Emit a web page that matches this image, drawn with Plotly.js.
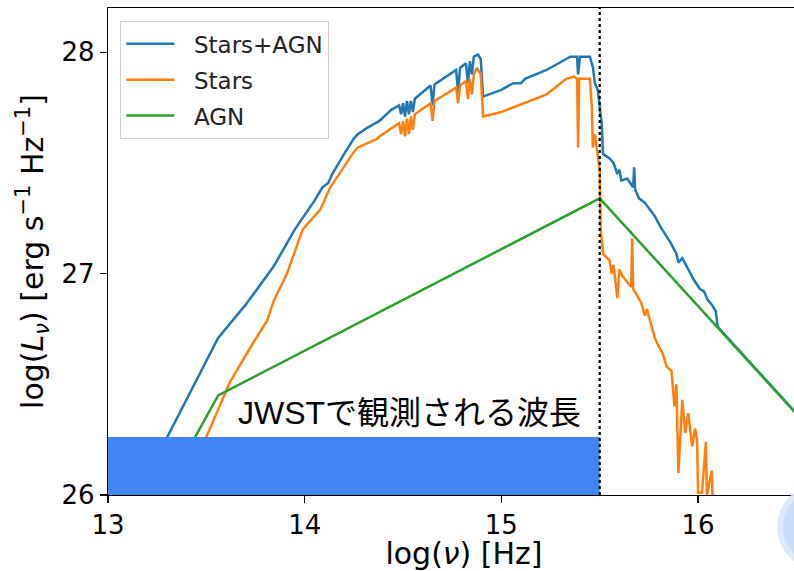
<!DOCTYPE html>
<html>
<head>
<meta charset="utf-8">
<script src="https://cdn.plot.ly/plotly-3.0.1.min.js"></script>
<style>
  html, body { margin: 0; padding: 0; overflow: hidden; background: #fff; }
  #chart { width: 820px; height: 571px; }
</style>
</head>
<body>
<div id="chart"></div>
<script>
// Spectral energy distribution: log frequency vs log luminosity density
const totalX = [13.15, 13.30, 13.56, 13.70, 13.81, 13.84, 13.86, 13.95, 14.05, 14.09, 14.12, 14.14, 14.20, 14.25, 14.27, 14.32, 14.38,
  14.44, 14.48, 14.49, 14.50, 14.51, 14.52, 14.53, 14.54, 14.55, 14.56, 14.64, 14.65, 14.66, 14.77, 14.78, 14.79, 14.82, 14.83,
  14.84, 14.85, 14.86, 14.88, 14.895, 14.907, 15.00, 15.06, 15.10, 15.12, 15.15, 15.23, 15.30, 15.35, 15.385, 15.39, 15.40, 15.45,
  15.466, 15.475, 15.49, 15.51, 15.517, 15.55, 15.57, 15.59, 15.60, 15.61, 15.64, 15.67, 15.675, 15.68, 15.70, 15.73, 15.755,
  15.78, 15.81, 15.84, 15.86, 15.89, 15.90, 15.92, 15.96, 15.98, 16.01, 16.03, 16.05, 16.07, 16.09, 16.10, 16.62];
const totalY = [26.00, 26.26, 26.71, 26.86, 26.99, 27.03, 27.06, 27.20, 27.33, 27.39, 27.41, 27.45, 27.54, 27.61, 27.63, 27.66, 27.69,
  27.74, 27.76, 27.72, 27.77, 27.71, 27.78, 27.72, 27.78, 27.73, 27.79, 27.85, 27.76, 27.855, 27.92, 27.82, 27.93, 27.95, 27.86,
  27.96, 27.90, 27.98, 27.99, 27.97, 27.80, 27.83, 27.86, 27.86, 27.88, 27.89, 27.92, 27.955, 27.98, 27.98, 27.90, 27.98, 27.98,
  27.93, 27.86, 27.83, 27.68, 27.54, 27.52, 27.50, 27.45, 27.47, 27.42, 27.43, 27.39, 27.48, 27.38, 27.34, 27.32, 27.29,
  27.26, 27.21, 27.17, 27.14, 27.09, 27.05, 27.07, 27.00, 26.97, 26.93, 26.92, 26.88, 26.86, 26.83, 26.76, 26.25];

const starsX = [13.20, 13.50, 13.62, 13.74, 13.81, 13.84, 13.85, 13.91, 13.99, 14.08, 14.11, 14.13, 14.19, 14.25, 14.27, 14.37, 14.38,
  14.45, 14.48, 14.49, 14.50, 14.51, 14.52, 14.53, 14.54, 14.55, 14.56, 14.64, 14.65, 14.66, 14.77, 14.78, 14.79, 14.82, 14.83,
  14.84, 14.85, 14.86, 14.876, 14.895, 14.907, 15.00, 15.06, 15.15, 15.23, 15.33, 15.37, 15.385, 15.39, 15.395, 15.45, 15.46,
  15.465, 15.475, 15.485, 15.50, 15.505, 15.517, 15.55, 15.56, 15.57, 15.59, 15.60, 15.615, 15.66, 15.665, 15.67, 15.685, 15.71,
  15.73, 15.74, 15.76, 15.78, 15.80, 15.82, 15.84, 15.865, 15.88, 15.89, 15.90, 15.92, 15.935, 15.95, 15.97, 15.985, 15.995,
  16.00, 16.02, 16.04, 16.045, 16.07, 16.075, 16.15, 16.62];
const starsY = [25.64, 26.26, 26.51, 26.69, 26.79, 26.87, 26.89, 27.00, 27.20, 27.29, 27.35, 27.39, 27.47, 27.55, 27.57, 27.61, 27.62,
  27.66, 27.68, 27.63, 27.69, 27.62, 27.70, 27.63, 27.71, 27.65, 27.72, 27.77, 27.69, 27.78, 27.84, 27.77, 27.85, 27.87, 27.79,
  27.88, 27.81, 27.90, 27.93, 27.90, 27.71, 27.73, 27.75, 27.78, 27.81, 27.88, 27.89, 27.88, 27.57, 27.88, 27.88, 27.75,
  27.57, 27.63, 27.56, 27.47, 27.20, 27.09, 27.06, 27.00, 27.04, 26.89, 27.02, 26.99, 26.94, 27.16, 26.93, 26.91, 26.87,
  26.81, 26.84, 26.78, 26.71, 26.67, 26.64, 26.58, 26.56, 26.40, 26.50, 26.10, 26.43, 26.28, 26.37, 26.22, 26.30, 26.25,
  26.01, 26.01, 26.24, 26.00, 26.11, 25.95, 25.60, 24.60];

const agnX = [13.00, 13.56, 15.50, 16.62];
const agnY = [25.55, 26.45, 27.34, 26.25];

const seriesNames = ['Stars+AGN', 'Stars', 'AGN'];
const seriesColors = ['#1f77b4', '#ff7f0e', '#2ca02c'];

// Wavelength band covered by JWST, and the 912 Å break
const jwstBandX = [13.0, 15.5];
const jwstBandTop = 26.262;
const breakX = 15.5;
const bandLabel = 'JWSTで観測される波長';

const xTicks = [13, 14, 15, 16];
const yTicks = [26, 27, 28];

const series = [[totalX, totalY], [starsX, starsY], [agnX, agnY]];
const traces = series.map(([x, y], i) => ({
  type: 'scatter', mode: 'lines', x: x, y: y,
  name: '\u00a0\u00a0' + seriesNames[i], legendgroup: 'g' + i,
  line: { color: seriesColors[i], width: 2.5 }
}));

const layout = {
  width: 820, height: 571,
  margin: { l: 108, r: 0, t: 8, b: 76 },
  paper_bgcolor: '#fff', plot_bgcolor: '#fff',
  font: { family: 'DejaVu Sans', size: 26, color: '#000' },
  showlegend: true,
  xaxis: {
    range: [13, 16.62], tickvals: xTicks, ticktext: xTicks.map(String),
    showgrid: false, zeroline: false, showline: true, mirror: true,
    linecolor: '#000', linewidth: 1.2, ticks: 'outside', ticklen: 7, tickwidth: 1.2, tickcolor: '#000',
    tickfont: { size: 26, family: 'DejaVu Sans' },
    title: { text: 'log(<i>ν</i>) [Hz]', standoff: 9, font: { size: 30, family: 'DejaVu Sans' } }
  },
  yaxis: {
    range: [26, 28.2], tickvals: yTicks, ticktext: yTicks.map(String),
    showgrid: false, zeroline: false, showline: true, mirror: true,
    linecolor: '#000', linewidth: 1.2, ticks: 'outside', ticklen: 7, tickwidth: 1.2, tickcolor: '#000',
    tickfont: { size: 26, family: 'DejaVu Sans' },
    title: { text: 'log(<i>L</i><sub><i>ν</i></sub>) [erg s<sup>−1</sup> Hz<sup>−1</sup>]', standoff: 9,
             font: { size: 30, family: 'DejaVu Sans' } }
  },
  legend: {
    x: 0.017, y: 0.973, xanchor: 'left', yanchor: 'top',
    bgcolor: 'rgba(255,255,255,0.85)', bordercolor: '#d0d0d0', borderwidth: 1.2,
    font: { size: 23, family: 'DejaVu Sans', color: '#222' }, itemwidth: 48,
    traceorder: 'grouped', tracegroupgap: 3
  },
  shapes: [
    { type: 'rect', xref: 'x', yref: 'y', x0: jwstBandX[0], x1: jwstBandX[1], y0: 25.99, y1: jwstBandTop,
      fillcolor: '#4285f4', line: { width: 0 }, layer: 'above' },
    { type: 'line', xref: 'x', yref: 'paper', x0: breakX, x1: breakX, y0: 0, y1: 1,
      line: { color: '#000', width: 2.2, dash: 'dot' }, layer: 'above' },
    { type: 'circle', xref: 'paper', yref: 'paper', x0: 0.9396, x1: 1.0604, y0: -0.154, y1: 0.0226,
      fillcolor: 'rgba(214,232,252,0.9)', line: { width: 0 }, layer: 'above' },
    { type: 'circle', xref: 'paper', yref: 'paper', x0: 0.948, x1: 1.052, y0: -0.142, y1: 0.011,
      fillcolor: 'rgba(196,222,250,0.9)', line: { width: 0 }, layer: 'above' }
  ],
  annotations: [
    { x: (jwstBandX[0] + jwstBandX[1]) / 2 + 0.285, y: 26.37, xref: 'x', yref: 'y', text: bandLabel, showarrow: false,
      font: { size: 32, family: 'Liberation Sans, Noto Sans CJK JP', color: '#000' } }
  ]
};

Plotly.newPlot('chart', traces, layout, { displayModeBar: false, staticPlot: true });
</script>
</body>
</html>
